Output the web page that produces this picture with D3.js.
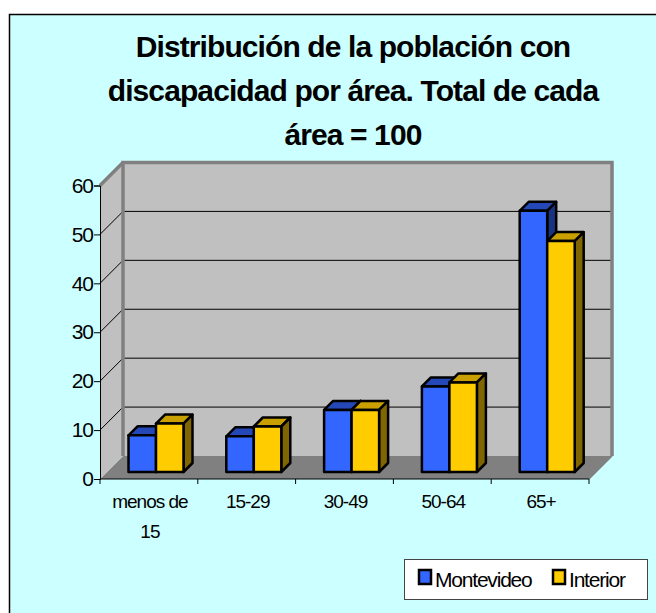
<!DOCTYPE html>
<html>
  <head>
    <meta charset="utf-8" />
    <title>Distribución de la población con discapacidad</title>
    <script src="https://d3js.org/d3.v7.min.js"></script>
    <style>
        body { margin: 0; background: #fff; }
        text { font-family: "Liberation Sans", Arial, sans-serif; }
    </style>
  </head>
  <body>
    <svg id="chart"></svg>

    <script>
        // data
        var categories = ["menos de 15", "15-29", "30-49", "50-64", "65+"];
        var catLabels = [["menos de", "15"], ["15-29"], ["30-49"], ["50-64"], ["65+"]];
        var seriesNames = ["Montevideo", "Interior"];
        var montevideo = [7.5, 7.3, 12.7, 17.5, 53.4];
        var interior = [9.9, 9.3, 12.7, 18.3, 47.2];
        var yTicks = [0, 10, 20, 30, 40, 50, 60];
        var titleLines = ["Distribución de la población con", "discapacidad por área. Total de cada", "área = 100"];

        var width = 656, height = 613;
        var svg = d3.select("#chart").attr("width", width).attr("height", height);

        var depth = 23;      // floor / wall depth
        var barShift = 7;    // bars sit this far back from front plane
        var barDepth = 9;

        var x = d3.scaleBand().domain(categories).range([100, 589]);
        var xs = d3.scaleBand().domain(seriesNames).range([21.5, 76.5]);
        var y = d3.scaleLinear().domain([0, 60]).range([479, 185.5]);

        var colors = {
            Montevideo: {front: "#3366ff", top: "#2448b8", side: "#1a3380"},
            Interior: {front: "#ffcc00", top: "#c9a000", side: "#806600"}
        };

        // chart area frame
        svg.append("rect").attr("x", 9.5).attr("y", 14.5).attr("width", 700).attr("height", 700)
            .attr("fill", "#ccffff").attr("stroke", "#000").attr("stroke-width", 1.5);

        // title
        svg.append("g").selectAll("text").data(titleLines).join("text")
            .attr("x", 353).attr("y", function(d, i){ return 57 + i * 44; })
            .attr("text-anchor", "middle").attr("font-size", 30).attr("font-weight", "bold")
            .attr("letter-spacing", -0.9)
            .text(function(d){ return d; });

        var x0 = x.range()[0], x1 = x.range()[1];
        function pts(a){ return a.map(function(p){ return p.join(","); }).join(" "); }

        // floor
        svg.append("polygon")
            .attr("points", pts([[x0, y(0)], [x1, y(0)], [x1 + depth, y(0) - depth], [x0 + depth, y(0) - depth]]))
            .attr("fill", "#808080");

        // back wall
        svg.append("rect").attr("x", x0 + depth).attr("y", y(60) - depth)
            .attr("width", x1 - x0).attr("height", y(0) - y(60))
            .attr("fill", "#c0c0c0");
        // left wall
        svg.append("polygon")
            .attr("points", pts([[x0, y(0)], [x0, y(60)], [x0 + depth, y(60) - depth], [x0 + depth, y(0) - depth]]))
            .attr("fill", "#c0c0c0");

        // gridlines
        var grid = yTicks.filter(function(t){ return t > 0 && t < 60; });
        svg.append("g").selectAll("line").data(grid).join("line")
            .attr("x1", x0 + depth).attr("x2", x1 + depth)
            .attr("y1", function(d){ return y(d) - depth; }).attr("y2", function(d){ return y(d) - depth; })
            .attr("stroke", "#000").attr("stroke-width", 1);
        svg.append("g").selectAll("line").data(grid).join("line")
            .attr("x1", x0).attr("x2", x0 + depth)
            .attr("y1", function(d){ return y(d); }).attr("y2", function(d){ return y(d) - depth; })
            .attr("stroke", "#000").attr("stroke-width", 1);

        // wall borders
        svg.append("path")
            .attr("d", "M" + (x0 + depth) + "," + (y(0) - depth) + "V" + (y(60) - depth) + "H" + (x1 + depth) + "V" + (y(0) - depth))
            .attr("fill", "none").attr("stroke", "#808080").attr("stroke-width", 3.5);
        svg.append("path")
            .attr("d", "M" + x0 + "," + y(60) + "L" + (x0 + depth) + "," + (y(60) - depth))
            .attr("fill", "none").attr("stroke", "#808080").attr("stroke-width", 3.5);
        svg.append("path")
            .attr("d", "M" + x1 + "," + y(0) + "L" + (x1 + depth) + "," + (y(0) - depth))
            .attr("fill", "none").attr("stroke", "#808080").attr("stroke-width", 1.5);

        // bars
        var rows = categories.map(function(c, i){
            return [{cat: c, key: "Montevideo", v: montevideo[i]}, {cat: c, key: "Interior", v: interior[i]}];
        });
        var bars = svg.append("g").selectAll("g").data(d3.merge(rows)).join("g")
            .attr("stroke", "#000").attr("stroke-width", 2.5).attr("stroke-linejoin", "round");
        bars.each(function(d){
            var g = d3.select(this);
            var bx = x(d.cat) + xs(d.key) + barShift;
            var bw = xs.bandwidth();
            var top = y(d.v) - barShift;
            var base = y(0) - barShift;
            var c = colors[d.key];
            g.append("polygon")
                .attr("points", pts([[bx, top], [bx + bw, top], [bx + bw + barDepth, top - barDepth], [bx + barDepth, top - barDepth]]))
                .attr("fill", c.top);
            g.append("polygon")
                .attr("points", pts([[bx + bw, top], [bx + bw + barDepth, top - barDepth], [bx + bw + barDepth, base - barDepth], [bx + bw, base]]))
                .attr("fill", c.side);
            g.append("rect").attr("x", bx).attr("y", top).attr("width", bw).attr("height", base - top)
                .attr("fill", c.front);
        });

        // y axis
        var yAxis = svg.append("g").attr("transform", "translate(" + x0 + ",0)")
            .call(d3.axisLeft(y).tickValues(yTicks).tickSize(6).tickPadding(1).tickFormat(d3.format("d")));
        yAxis.selectAll("text").attr("font-size", 21).attr("fill", "#000").attr("letter-spacing", -1)
            .attr("font-family", "Liberation Sans, Arial, sans-serif");
        yAxis.select(".domain").attr("stroke", "#000");

        // x axis
        var xAxis = svg.append("g").attr("transform", "translate(0," + y(0) + ")");
        xAxis.append("line").attr("x1", x0).attr("x2", x1).attr("stroke", "#000");
        xAxis.selectAll(".tick").data(categories.concat([null])).join("line")
            .attr("x1", function(d, i){ return x0 + i * x.step(); })
            .attr("x2", function(d, i){ return x0 + i * x.step(); })
            .attr("y1", 0).attr("y2", 5).attr("stroke", "#000");
        var lbl = xAxis.selectAll(".lbl").data(categories).join("text")
            .attr("text-anchor", "middle").attr("font-size", 19).attr("letter-spacing", -1);
        lbl.each(function(d, i){
            var t = d3.select(this);
            catLabels[i].forEach(function(s, j){
                t.append("tspan").attr("x", x(d) + x.bandwidth() / 2 + 1).attr("y", 29 + j * 30).text(s);
            });
        });

        // legend
        var lg = svg.append("g");
        lg.append("rect").attr("x", 404.5).attr("y", 559.5).attr("width", 243).attr("height", 40)
            .attr("fill", "#fff").attr("stroke", "#444").attr("stroke-width", 1);
        var legX = [419, 553];
        seriesNames.forEach(function(s, i){
            lg.append("rect").attr("x", legX[i]).attr("y", 570).attr("width", 12).attr("height", 14)
                .attr("fill", colors[s].front).attr("stroke", "#000").attr("stroke-width", 2.5);
            lg.append("text").attr("x", legX[i] + 16).attr("y", 587).attr("font-size", 21)
                .attr("letter-spacing", -1.2).text(s);
        });
    </script>
  </body>
</html>
